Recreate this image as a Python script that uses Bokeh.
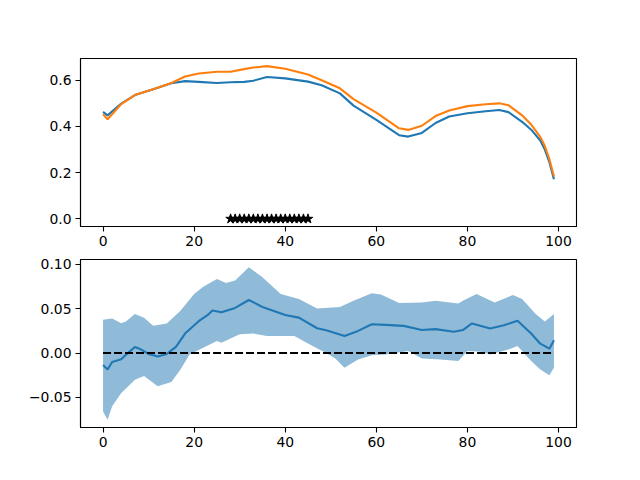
from bokeh.plotting import figure
from bokeh.layouts import column
from bokeh.models import FixedTicker, Range1d
from bokeh.embed import file_html
from bokeh.resources import INLINE

# ---- top panel data ----
top_x = [0, 1, 4, 7, 11, 15, 18, 21, 25, 28, 31, 33, 36, 40, 45, 48, 52, 55, 60, 65,
         67, 70, 73, 76, 80, 84, 87, 89, 92, 94, 96, 97, 98, 99]
blue_y = [0.463, 0.448, 0.499, 0.536, 0.561, 0.587, 0.596, 0.593, 0.588, 0.591, 0.593,
          0.598, 0.614, 0.608, 0.594, 0.578, 0.543, 0.490, 0.428, 0.362, 0.356, 0.372,
          0.415, 0.443, 0.457, 0.466, 0.471, 0.462, 0.420, 0.386, 0.339, 0.300, 0.245, 0.171]
orange_y = [0.453, 0.431, 0.497, 0.536, 0.561, 0.588, 0.616, 0.629, 0.637, 0.637, 0.648,
            0.655, 0.661, 0.650, 0.625, 0.600, 0.565, 0.518, 0.460, 0.392, 0.385, 0.403,
            0.445, 0.469, 0.488, 0.496, 0.500, 0.492, 0.448, 0.408, 0.355, 0.315, 0.258, 0.183]
star_x = list(range(28, 46))
star_y = [0.0] * len(star_x)

# ---- bottom panel data ----
mean_x = [0, 1, 2, 4, 5, 7, 8, 10, 12, 14, 16, 18, 21, 23, 24, 26, 29, 32, 35, 40, 43,
          47, 49, 52, 53, 56, 59, 62, 66, 70, 73, 77, 79, 81, 85, 88, 91, 94, 96, 98, 99]
mean_y = [-0.0136, -0.0186, -0.010, -0.007, -0.002, 0.0068, 0.005, -0.001, -0.0038,
          -0.001, 0.007, 0.022, 0.036, 0.043, 0.048, 0.046, 0.051, 0.0599, 0.052, 0.043,
          0.040, 0.028, 0.0258, 0.021, 0.0193, 0.025, 0.0326, 0.0318, 0.0307, 0.026,
          0.027, 0.024, 0.026, 0.0335, 0.0277, 0.0314, 0.0364, 0.022, 0.0106, 0.005, 0.0144]
upper_x = [0, 2, 4, 5, 7, 9, 11, 14, 17, 20, 22, 25, 27, 29, 32, 35, 39, 43, 47, 52, 55,
           59, 61, 65, 70, 73, 78, 79, 82, 86, 90, 92, 95, 97, 99]
upper_y = [0.0375, 0.039, 0.0337, 0.0356, 0.044, 0.040, 0.0307, 0.0333, 0.0477, 0.0667,
           0.075, 0.0837, 0.079, 0.0818, 0.097, 0.0856, 0.0667, 0.061, 0.0504, 0.052,
           0.059, 0.0674, 0.066, 0.0565, 0.0572, 0.059, 0.056, 0.059, 0.0667, 0.0572,
           0.0655, 0.061, 0.044, 0.0356, 0.044]
lower_x = [0, 1, 2, 4, 7, 9, 12, 15, 17, 19, 22, 25, 26, 30, 33, 36, 42, 46, 49, 51, 53,
           56, 59, 62, 67, 70, 74, 78, 80, 83, 85, 89, 91, 94, 96, 98, 99]
lower_y = [-0.066, -0.0754, -0.060, -0.045, -0.030, -0.026, -0.0375, -0.0326, -0.0186,
           -0.0015, 0.006, 0.0136, 0.0117, 0.0212, 0.022, 0.0193, 0.0193, 0.008, 0.0,
           -0.006, -0.0167, -0.0072, -0.0026, -0.0015, 0.0023, -0.006, -0.0072, -0.009,
           0.0023, 0.0015, -0.0015, 0.004, 0.008, -0.009, -0.0186, -0.025, -0.0167]
zero_x = [0, 99]
zero_y = [0.0, 0.0]

x_ticks = [0, 20, 40, 60, 80, 100]
top_y_ticks = [0.0, 0.2, 0.4, 0.6]
top_y_labels = ["0.0", "0.2", "0.4", "0.6"]
bot_y_ticks = [-0.05, 0.0, 0.05, 0.10]
bot_y_labels = ["\u22120.05", "0.00", "0.05", "0.10"]

BLUE = "#1f77b4"
ORANGE = "#ff7f0e"
FONT = "DejaVu Sans"
LW = 2.1


def pad_range(lo, hi):
    m = (hi - lo) * 0.05
    return Range1d(lo - m, hi + m)


def style(p, yticks, ylabels):
    p.xgrid.visible = False
    p.ygrid.visible = False
    p.outline_line_color = "black"
    p.outline_line_width = 1.1
    p.outline_line_alpha = 1
    p.xaxis.ticker = FixedTicker(ticks=x_ticks)
    p.xaxis.major_label_overrides = {t: str(t) for t in x_ticks}
    p.yaxis.ticker = FixedTicker(ticks=yticks)
    p.yaxis.major_label_overrides = {t: l for t, l in zip(yticks, ylabels)}
    for ax in (p.xaxis[0], p.yaxis[0]):
        ax.axis_line_color = "black"
        ax.axis_line_width = 1.1
        ax.major_tick_line_color = "black"
        ax.major_tick_line_width = 1.1
        ax.major_tick_out = 5
        ax.major_tick_in = 0
        ax.minor_tick_line_color = None
        ax.major_label_standoff = 4
        ax.major_label_text_font = FONT
        ax.major_label_text_font_size = "13.9px"
        ax.major_label_text_color = "black"
    p.background_fill_color = "white"
    p.border_fill_color = "white"


all_top_x = top_x + star_x
all_top_y = blue_y + orange_y + star_y
p1 = figure(frame_width=496, frame_height=168, output_backend="svg", toolbar_location=None,
            x_range=pad_range(min(all_top_x), max(all_top_x)),
            y_range=pad_range(min(all_top_y), max(all_top_y)),
            min_border_left=80, min_border_right=48, min_border_top=58, min_border_bottom=28)
style(p1, top_y_ticks, top_y_labels)
p1.line(top_x, blue_y, line_color=BLUE, line_width=LW)
p1.line(top_x, orange_y, line_color=ORANGE, line_width=LW)
p1.scatter(star_x, star_y, marker="star", size=10, fill_color="black", line_color="black")

all_bot_y = mean_y + upper_y + lower_y
p2 = figure(frame_width=496, frame_height=168, output_backend="svg", toolbar_location=None,
            x_range=pad_range(0, 99),
            y_range=pad_range(min(all_bot_y), max(all_bot_y)),
            min_border_left=80, min_border_right=48, min_border_top=5, min_border_bottom=30)
style(p2, bot_y_ticks, bot_y_labels)
band_x = upper_x + lower_x[::-1]
band_y = upper_y + lower_y[::-1]
p2.patch(band_x, band_y, fill_color=BLUE, fill_alpha=0.5, line_color=None)
p2.line(mean_x, mean_y, line_color=BLUE, line_width=LW)
p2.line(zero_x, zero_y, line_color="black", line_width=LW, line_dash="8 3")

layout = column(p1, p2, spacing=0)
open("out.html", "w").write(file_html(layout, INLINE))
